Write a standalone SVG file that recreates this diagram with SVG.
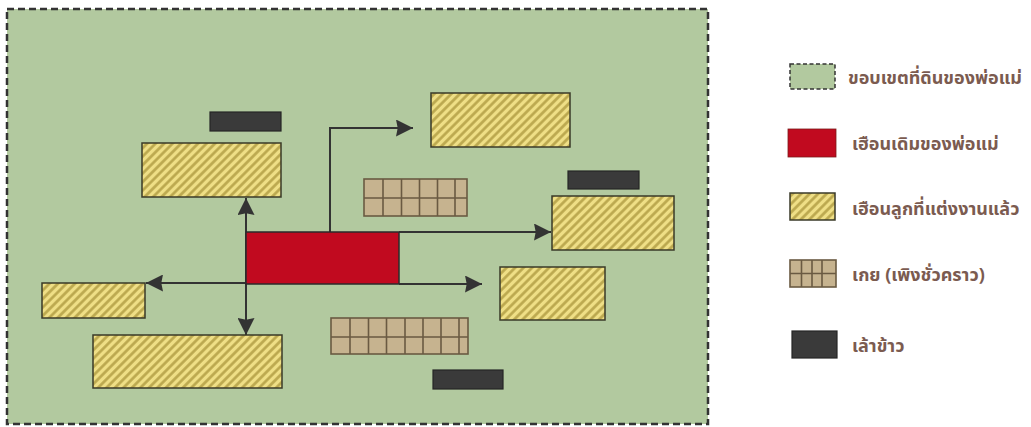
<svg xmlns="http://www.w3.org/2000/svg" width="1031" height="427" viewBox="0 0 1031 427">
<defs>
<pattern id="hatch" patternUnits="userSpaceOnUse" width="6" height="6" patternTransform="rotate(45)">
<rect width="6" height="6" fill="#efdf86"/>
<line x1="1.5" y1="0" x2="1.5" y2="6" stroke="#b9a64c" stroke-width="2.6"/>
</pattern>
<marker id="arr" viewBox="0 0 10 10" refX="10" refY="5" markerWidth="17" markerHeight="17" markerUnits="userSpaceOnUse" orient="auto">
<path d="M0,0 L10,5 L0,10 L1,5 Z" fill="#333"/>
</marker>
<style>
.land{fill:#b2c99f;stroke:#333;stroke-width:2.5;stroke-dasharray:7 4}
.main{fill:#c10a1f;stroke:#2b2b2b;stroke-width:1.5}
.child{fill:url(#hatch);stroke:#3a3a28;stroke-width:1.5}
.kei{fill:#c6b38f;stroke:#6a5a42;stroke-width:1.6}
.kgrid{fill:none;stroke:#6a5a42;stroke-width:1.6}
.barn{fill:#3a3a3a;stroke:#262626;stroke-width:1.2}
.conn{fill:none;stroke:#333;stroke-width:2}
.lbl{font-family:"Noto Sans Thai","Noto Sans","DejaVu Sans",sans-serif;font-size:18px;font-weight:bold;fill:#7b5b50}
</style>
</defs>
<rect id="background" x="0" y="0" width="1031" height="427" fill="#ffffff"/>
<g id="land"><rect class="land" x="7" y="9" width="701" height="415"/></g>
<g id="connectors">
<path class="conn" d="M246,283 V198" marker-end="url(#arr)"/>
<path class="conn" d="M246,232 V335" marker-end="url(#arr)" />
<path class="conn" d="M246,283 H146" marker-end="url(#arr)"/>
<path class="conn" d="M330,232 V128 H413" marker-end="url(#arr)"/>
<path class="conn" d="M399,232 H551" marker-end="url(#arr)"/>
<path class="conn" d="M399,284 H482" marker-end="url(#arr)"/>
</g>
<g id="main-house"><rect class="main" x="246" y="232" width="153" height="52"/></g>
<g id="child-house-1"><rect class="child" x="142" y="143" width="139" height="54"/></g>
<g id="child-house-2"><rect class="child" x="431" y="93" width="139" height="54"/></g>
<g id="child-house-3"><rect class="child" x="552" y="196" width="122" height="54"/></g>
<g id="child-house-4"><rect class="child" x="500" y="267" width="105" height="53"/></g>
<g id="child-house-5"><rect class="child" x="42" y="283" width="103" height="35"/></g>
<g id="child-house-6"><rect class="child" x="93" y="335" width="189" height="53"/></g>
<g id="kei-1">
<rect class="kei" x="364" y="179" width="103" height="37"/>
<path class="kgrid" d="M364,198 H467 M383,179 V216 M401.5,179 V216 M419.5,179 V216 M437.5,179 V216 M455,179 V216"/>
</g>
<g id="kei-2">
<rect class="kei" x="331" y="318" width="137" height="36"/>
<path class="kgrid" d="M331,337 H468 M350,318 V354 M368.5,318 V354 M386.5,318 V354 M405,318 V354 M423,318 V354 M441,318 V354 M459,318 V354"/>
</g>
<g id="barn-1"><rect class="barn" x="210" y="112" width="71" height="19"/></g>
<g id="barn-2"><rect class="barn" x="568" y="171" width="71" height="18"/></g>
<g id="barn-3"><rect class="barn" x="433" y="370" width="70" height="19"/></g>
<g id="legend-land">
<rect x="790" y="64" width="45" height="25" fill="#b2c99f" stroke="#333" stroke-width="1.5" stroke-dasharray="4 2.5"/>
<text class="lbl" x="848" y="84">ขอบเขตที่ดินของพ่อแม่</text>
</g>
<g id="legend-main">
<rect x="788" y="129" width="48" height="28" fill="#c10a1f" stroke="#7a1a1a" stroke-width="0.8"/>
<text class="lbl" x="852" y="150">เฮือนเดิมของพ่อแม่</text>
</g>
<g id="legend-child">
<rect class="child" x="790" y="193" width="45" height="27" stroke-width="1"/>
<text class="lbl" x="852" y="215">เฮือนลูกที่แต่งงานแล้ว</text>
</g>
<g id="legend-kei">
<rect class="kei" x="790" y="260" width="46" height="27" stroke-width="1.4"/>
<path class="kgrid" stroke-width="1.4" d="M790,273.5 H836 M801.5,260 V287 M812,260 V287 M822,260 V287"/>
<text class="lbl" x="852" y="281">เกย (เพิงชั่วคราว)</text>
</g>
<g id="legend-barn">
<rect class="barn" x="792" y="331" width="45" height="27"/>
<text class="lbl" x="852" y="352">เล้าข้าว</text>
</g>
</svg>
